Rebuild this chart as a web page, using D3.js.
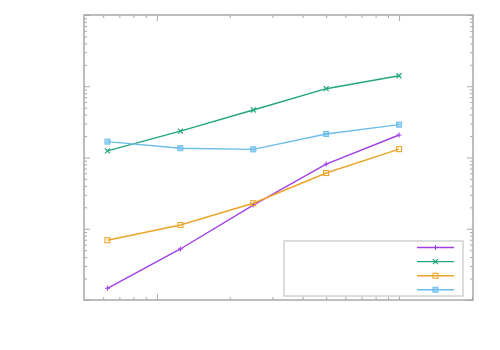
<!DOCTYPE html>
<html>
<head>
<meta charset="utf-8">
<script src="https://cdn.jsdelivr.net/npm/d3@7/dist/d3.min.js"></script>
<style>
  html, body { margin: 0; padding: 0; background: #fff; }
  svg { display: block; }
</style>
</head>
<body>
<svg id="chart" width="500" height="350"></svg>
<script>
// ---- data ----
const xValues = [6.25, 12.5, 25, 50, 100];
const seriesNames = ["", "", "", ""];
const purpleValues = [1.46, 5.2, 21.5, 81, 207];
const greenValues = [124, 235, 464, 924, 1406];
const orangeValues = [6.9, 11.3, 22.8, 60.6, 131];
const blueValues = [167, 135, 130, 214, 289];
const xMajorTicks = [10, 100];
const xMinorTicks = [6, 7, 8, 9, 20, 30, 40, 50, 60, 70, 80, 90, 200];
const yMajorTicks = [1, 10, 100, 1000, 10000];
const yMinorTicks = [];
[1, 10, 100, 1000].forEach(d => { for (let m = 2; m <= 9; m++) yMinorTicks.push(d * m); });

const series = [
  { name: seriesNames[0], values: purpleValues, color: "#a040e4", marker: "plus" },
  { name: seriesNames[1], values: greenValues, color: "#22a67c", marker: "cross" },
  { name: seriesNames[2], values: orangeValues, color: "#eca528", marker: "square" },
  { name: seriesNames[3], values: blueValues, color: "#6bbdec", marker: "fsquare" }
];

// ---- layout ----
const svg = d3.select("#chart");
const pLeft = 84, pRight = 473, pTop = 15, pBottom = 300;
const x = d3.scaleLog().domain([5, 202]).range([pLeft, pRight]);
const y = d3.scaleLog().domain([1, 10000]).range([pBottom, pTop]);

const axisColor = "#a8a8a8";

function styleAxis(g) {
  g.select(".domain").remove();
  g.selectAll(".tick line").attr("stroke", axisColor).attr("stroke-width", 1);
  g.selectAll(".tick text").remove();
}

function addAxis(gen, tx, ty) {
  svg.append("g").attr("transform", `translate(${tx},${ty})`).call(gen).call(styleAxis);
}
// bottom & top
addAxis(d3.axisBottom(x).tickValues(xMajorTicks).tickSize(-6).tickFormat(""), 0, pBottom);
addAxis(d3.axisBottom(x).tickValues(xMinorTicks).tickSize(-3).tickFormat(""), 0, pBottom);
addAxis(d3.axisTop(x).tickValues(xMajorTicks).tickSize(-6).tickFormat(""), 0, pTop);
addAxis(d3.axisTop(x).tickValues(xMinorTicks).tickSize(-3).tickFormat(""), 0, pTop);
// left & right
addAxis(d3.axisLeft(y).tickValues(yMajorTicks).tickSize(-6).tickFormat(""), pLeft, 0);
addAxis(d3.axisLeft(y).tickValues(yMinorTicks).tickSize(-3).tickFormat(""), pLeft, 0);
addAxis(d3.axisRight(y).tickValues(yMajorTicks).tickSize(-6).tickFormat(""), pRight, 0);
addAxis(d3.axisRight(y).tickValues(yMinorTicks).tickSize(-3).tickFormat(""), pRight, 0);

// border
svg.append("rect")
  .attr("x", pLeft).attr("y", pTop)
  .attr("width", pRight - pLeft).attr("height", pBottom - pTop)
  .attr("fill", "none").attr("stroke", axisColor).attr("stroke-width", 1.5);

function drawMarker(g, cx, cy, type, color) {
  const s = 2.5;
  if (type === "plus") {
    g.append("path").attr("d", `M${cx - s},${cy}H${cx + s}M${cx},${cy - s}V${cy + s}`)
      .attr("stroke", color).attr("stroke-width", 1.1).attr("fill", "none");
  } else if (type === "cross") {
    g.append("path").attr("d", `M${cx - s},${cy - s}L${cx + s},${cy + s}M${cx - s},${cy + s}L${cx + s},${cy - s}`)
      .attr("stroke", color).attr("stroke-width", 1.2).attr("fill", "none");
  } else if (type === "square") {
    g.append("rect").attr("x", cx - s).attr("y", cy - s).attr("width", 2 * s).attr("height", 2 * s)
      .attr("stroke", color).attr("stroke-width", 1.1).attr("fill", "none");
  } else {
    g.append("rect").attr("x", cx - s).attr("y", cy - s).attr("width", 2 * s).attr("height", 2 * s)
      .attr("stroke", color).attr("stroke-width", 1).attr("fill", color).attr("fill-opacity", 0.6);
  }
}

const line = d3.line().x(d => x(d[0])).y(d => y(d[1]));
series.forEach(s => {
  const pts = xValues.map((xv, i) => [xv, s.values[i]]);
  const g = svg.append("g");
  g.append("path").attr("d", line(pts)).attr("fill", "none")
    .attr("stroke", s.color).attr("stroke-width", 1.4);
  pts.forEach(p => drawMarker(g, x(p[0]), y(p[1]), s.marker, s.color));
});

// legend
const lg = svg.append("g");
lg.append("rect").attr("x", 284).attr("y", 241).attr("width", 179).attr("height", 55)
  .attr("fill", "#fff").attr("stroke", "#d0d0d0").attr("stroke-width", 1.5);
series.forEach((s, i) => {
  const ly = 247.5 + i * 14.1;
  lg.append("line").attr("x1", 417).attr("x2", 454).attr("y1", ly).attr("y2", ly)
    .attr("stroke", s.color).attr("stroke-width", 1.4);
  drawMarker(lg, 435.5, ly, s.marker, s.color);
  lg.append("text").attr("x", 410).attr("y", ly + 3).attr("text-anchor", "end")
    .attr("font-family", "DejaVu Sans").attr("font-size", 9).text(s.name);
});
</script>
</body>
</html>
